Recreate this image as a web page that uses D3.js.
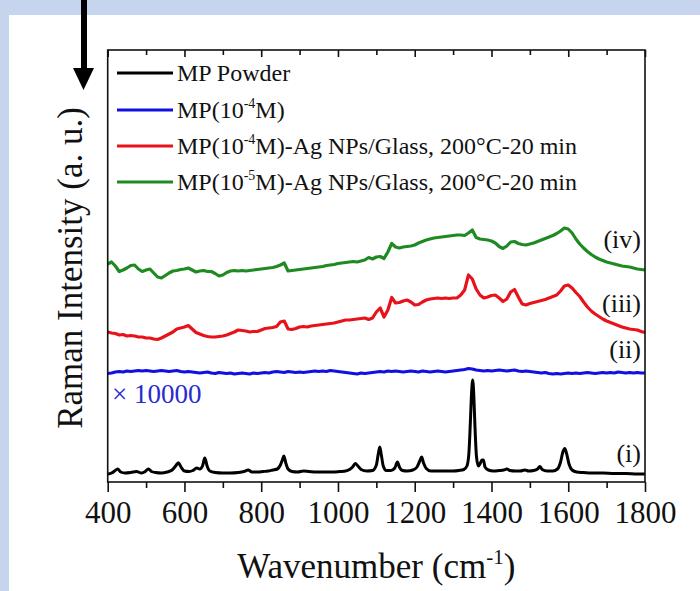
<!DOCTYPE html>
<html><head><meta charset="utf-8">
<script src="https://cdn.jsdelivr.net/npm/d3@7"></script>
<style>
html,body{margin:0;padding:0;background:#c6d4ee;}
svg{display:block;}
svg text, svg tspan{font-family:"Liberation Serif","Times New Roman",Times,serif !important;}
</style></head>
<body>
<svg id="chart" width="700" height="591" font-family="Liberation Serif, Times New Roman, serif"></svg>
<script>
// ---------- DATA ----------
const xTicksMajor = [400, 600, 800, 1000, 1200, 1400, 1600, 1800];
const xTicksMinor = [500, 700, 900, 1100, 1300, 1500, 1700];
const seriesNames = ["MP Powder", "MP(10-4M)", "MP(10-4M)-Ag NPs/Glass, 200°C-20 min", "MP(10-5M)-Ag NPs/Glass, 200°C-20 min"];
const curveLabels = ["(i)", "(ii)", "(iii)", "(iv)"];
const colors = ["#000000", "#1010e0", "#e8121a", "#1f8a22"];

// common wavenumber grid for noisy spectra (400..1800 step 10)
const wnGrid = d3.range(400, 1801, 10);

// (i) MP Powder: [wavenumber, intensity]
const powder = [
 [400,8],[410,9],[418,11],[426,13],[434,10],[445,9],[460,9.5],[475,10.5],[488,9],[498,10.5],[506,13],[514,10.5],[525,9.5],[540,9],[555,10],[568,12],[577,16],[584,19.3],[591,15],[600,11],[612,10.5],[622,11.5],[632,14],[640,13],[647,16],[653,24],[659,16],[666,11],[680,9.5],[700,9],[720,9],[740,9.5],[755,10.5],[766,12],[776,10],[790,10],[805,10.5],[818,11],[830,12],[842,13],[850,17],[855,22],[859,26],[864,19],[870,13],[880,10.5],[895,10],[910,11],[925,10.5],[945,10],[965,10],[985,10],[1005,10.5],[1020,11],[1030,12.5],[1038,15],[1045,18.5],[1052,16],[1060,12.5],[1075,11],[1090,11.5],[1100,17],[1105,28],[1109,35],[1113,27],[1118,16],[1126,11.5],[1138,11.5],[1148,14],[1155,20],[1160,15],[1168,11.5],[1180,11],[1195,12],[1206,15],[1213,21],[1218,25],[1223,19],[1230,13.5],[1242,11],[1260,11],[1280,11],[1300,11],[1315,11.5],[1328,12.5],[1336,16],[1341,28],[1345,60],[1348,88],[1351,102],[1354,86],[1357,55],[1361,25],[1366,16],[1371,19],[1375,22],[1379,22],[1383,15],[1392,12],[1405,11],[1420,11.5],[1432,12],[1440,13],[1448,11.5],[1462,11],[1475,11],[1487,12],[1497,11],[1510,11.5],[1520,13],[1526,15.5],[1532,12.5],[1545,11],[1560,11],[1572,13],[1580,20],[1586,30],[1591,33.5],[1596,28],[1602,18],[1610,12],[1622,10],[1640,9.5],[1660,9],[1690,9],[1720,8.5],[1750,8.5],[1780,8],[1800,8]
];

// (ii) MP(10^-4 M) x 10000
const blueVals = [
 108.5,109,110,110.5,110,111,110.5,111,111.5,111,
 111.5,111,110.5,111,111.5,111,110.5,111,111.5,110.5,
 110,110.5,110,109.5,109,109.5,110,109,108.5,109.5,
 109,108.5,109,108,108.5,109,108.5,108,109,108.5,
 109,109.5,109,110,110.5,110,109.5,110.5,110,109.5,
 110,109.5,110,110.5,111,110.5,111,110.5,111.5,111,
 110.5,110,109.5,109,108.5,108,109,108.5,109,109.5,
 110,110.5,110,111,110.5,111,110.5,110,110.5,111,
 110.5,110,111,110.5,110,110.5,111,110.5,110,110.5,
 111,111.5,112,112.5,113.5,113,112,111.5,111,111.5,
 111,111.5,112,111.5,111,111.5,112,111,110.5,111,
 110.5,110,109.5,109,109.5,108.5,108,108.5,108,108.5,
 109,108.5,109,108.5,109,109.5,109,108.5,109,109.5,
 109,109.5,109,110,109.5,109,109.5,109,109.5,109,
 109
];

// (iii) MP(10^-4 M)-Ag NPs/Glass
const redVals = [
 150,149,148.5,147,147.5,146,146.5,146,145,145,
 144,144,143,142.5,144,146,148,150,153,154,
 155,156.5,153,149.5,148,146.5,145.5,145,145,145.5,
 146,147,148.5,150,152,151.5,151,150,150.5,150.5,
 152,153.5,154,154.5,155.5,160,161,153,152.5,153.5,
 155,155.5,155,156,156.5,157,157.5,158,158.5,159,
 160,161,162,162,162.5,163,163.5,164,162.5,164,
 170,174,165,172,184.5,179,179.5,181,182,180,
 177,177.5,180,182,183,183.5,184,183.5,184,183.5,
 184,184,187,192,207,203,193,187,184,185,
 186.5,187,184,180.5,183,190,192.5,185,178,177,
 178.5,179.5,180.5,181.5,182.5,184,185.5,187,191,196,
 197,194,189.5,185.5,180,175,171,168,165.5,163,
 161,159.5,158,156.5,155,154,153,152.5,152,150.5,
 149.5
];

// (iv) MP(10^-5 M)-Ag NPs/Glass
const greenVals = [
 218,220,216,210.5,212,214,216.5,217,213,210.5,
 212,213,209,205,204,206.5,209,211,211.5,212.5,
 213,214,212,210,211,211.5,210.5,210.5,208.5,206,
 207,209.5,211,211.5,211,211.5,211,211.5,212,212.5,
 213,213.5,214,214.5,215.5,217,219,211,211.5,212,
 212.5,213,213.5,214,214.5,215,215.5,216.5,217,217.5,
 218.5,219,219.5,220,220.5,220,221,222,224.5,223,
 225,225.5,223.5,230,238.5,235,234,235,235.5,236,
 237,239,240.5,242,243,244,244.5,245,245.5,246,
 246.5,247,247,246.5,249,252,244.5,243,242.5,242,
 241,239,235.5,233.5,236,240,240.5,238.5,237.5,237,
 238,239,240.5,242,243.5,245,246.5,248.5,251,254,
 253,249,243,238,234,230.5,227.5,225,223,221.5,
 220,219,218,217,216,215.5,215,214,213,212.5,
 212
];

// ---------- CHART ----------
const FONT = '"Liberation Serif","Times New Roman",Times,serif';
const svg = d3.select("#chart");
// white panel
svg.append("rect").attr("x", 9).attr("y", 15).attr("width", 691).attr("height", 576).attr("fill", "#ffffff");

// arrow
svg.append("rect").attr("x", 81).attr("y", 0).attr("width", 6).attr("height", 70).attr("fill", "#000");
svg.append("path").attr("d", "M73,68 L94,68 L83.5,90 Z").attr("fill", "#000");

const L = 107.7, R = 645, T = 50, B = 482;
const x = d3.scaleLinear().domain([400, 1800]).range([L, R]);
const y = d3.scaleLinear().domain([0, 432]).range([B, T]);

// spectra
const gridData = arr => arr.map((v, i) => [wnGrid[i], v]);
const lineLin = d3.line().x(d => x(d[0])).y(d => y(d[1]));
const lineSmooth = d3.line().x(d => x(d[0])).y(d => y(d[1])).curve(d3.curveMonotoneX);

const plot = svg.append("g");
plot.append("path").datum(gridData(greenVals)).attr("d", lineLin)
  .attr("fill", "none").attr("stroke", colors[3]).attr("stroke-width", 3.2).attr("stroke-linejoin", "round");
plot.append("path").datum(gridData(redVals)).attr("d", lineLin)
  .attr("fill", "none").attr("stroke", colors[2]).attr("stroke-width", 3.2).attr("stroke-linejoin", "round");
plot.append("path").datum(gridData(blueVals)).attr("d", lineLin)
  .attr("fill", "none").attr("stroke", colors[1]).attr("stroke-width", 3.2).attr("stroke-linejoin", "round");
plot.append("path").datum(powder).attr("d", lineSmooth)
  .attr("fill", "none").attr("stroke", colors[0]).attr("stroke-width", 3).attr("stroke-linejoin", "round");

// frame
svg.append("rect").attr("x", L).attr("y", T).attr("width", R - L).attr("height", B - T)
  .attr("fill", "none").attr("stroke", "#111").attr("stroke-width", 1.6);

// bottom axis (outward ticks)
const axB = svg.append("g").attr("transform", `translate(0,${B})`)
  .call(d3.axisBottom(x).tickValues(xTicksMajor).tickSize(10).tickPadding(9).tickFormat(d3.format("d")));
const axBm = svg.append("g").attr("transform", `translate(0,${B})`)
  .call(d3.axisBottom(x).tickValues(xTicksMinor).tickSize(6).tickFormat(""));
// top axis (inward ticks)
const axT = svg.append("g").attr("transform", `translate(0,${T})`)
  .call(d3.axisTop(x).tickValues(xTicksMajor).tickSize(-7).tickFormat(""));
const axTm = svg.append("g").attr("transform", `translate(0,${T})`)
  .call(d3.axisTop(x).tickValues(xTicksMinor).tickSize(-5).tickFormat(""));
[axB, axBm, axT, axTm].forEach(g => {
  g.attr("font-family", FONT);
  g.select(".domain").remove();
  g.selectAll("line").attr("stroke", "#111").attr("stroke-width", 1.6);
});
axB.selectAll("text").attr("font-size", 31).attr("fill", "#111").attr("font-family", FONT);

// axis titles
const xt = svg.append("text").attr("x", (L + R) / 2).attr("y", 578).attr("text-anchor", "middle")
  .attr("font-family", FONT).attr("font-size", 35).attr("fill", "#111");
xt.append("tspan").text("Wavenumber (cm");
xt.append("tspan").attr("font-size", 21).attr("dy", -14).text("-1");
xt.append("tspan").attr("dy", 14).text(")");

svg.append("text").attr("transform", `translate(82,${(T + B) / 2 + 2}) rotate(-90)`)
  .attr("text-anchor", "middle").attr("font-family", FONT).attr("font-size", 35).attr("fill", "#111")
  .text("Raman Intensity (a. u.)");

// legend
const legY = [73, 110, 146, 182];
const legParts = [
  [["MP Powder", false]],
  [["MP(10", false], ["-4", true], ["M)", false]],
  [["MP(10", false], ["-4", true], ["M)-Ag NPs/Glass, 200°C-20 min", false]],
  [["MP(10", false], ["-5", true], ["M)-Ag NPs/Glass, 200°C-20 min", false]]
];
legParts.forEach((parts, i) => {
  svg.append("line").attr("x1", 117).attr("x2", 173).attr("y1", legY[i]).attr("y2", legY[i])
    .attr("stroke", colors[i]).attr("stroke-width", 3.2);
  const t = svg.append("text").attr("x", 177).attr("y", legY[i] + 8).attr("font-family", FONT)
    .attr("font-size", 24).attr("fill", "#111");
  parts.forEach(([s, sup], j) => {
    const ts = t.append("tspan").attr("font-family", FONT).text(s);
    if (sup) ts.attr("font-size", 14).attr("dy", -10);
    else if (j > 0) ts.attr("dy", 10);
  });
});

// curve labels
const labY = [461.5, 358, 311.5, 248];
curveLabels.forEach((s, i) => {
  svg.append("text").attr("x", 641).attr("y", labY[i]).attr("text-anchor", "end")
    .attr("font-family", FONT).attr("font-size", 26).attr("fill", "#111").text(s);
});

// multiplier
svg.append("text").attr("x", 112).attr("y", 403).attr("font-family", FONT)
  .attr("font-size", 27).attr("fill", "#2a2ad0").text("× 10000");
</script>
</body></html>
